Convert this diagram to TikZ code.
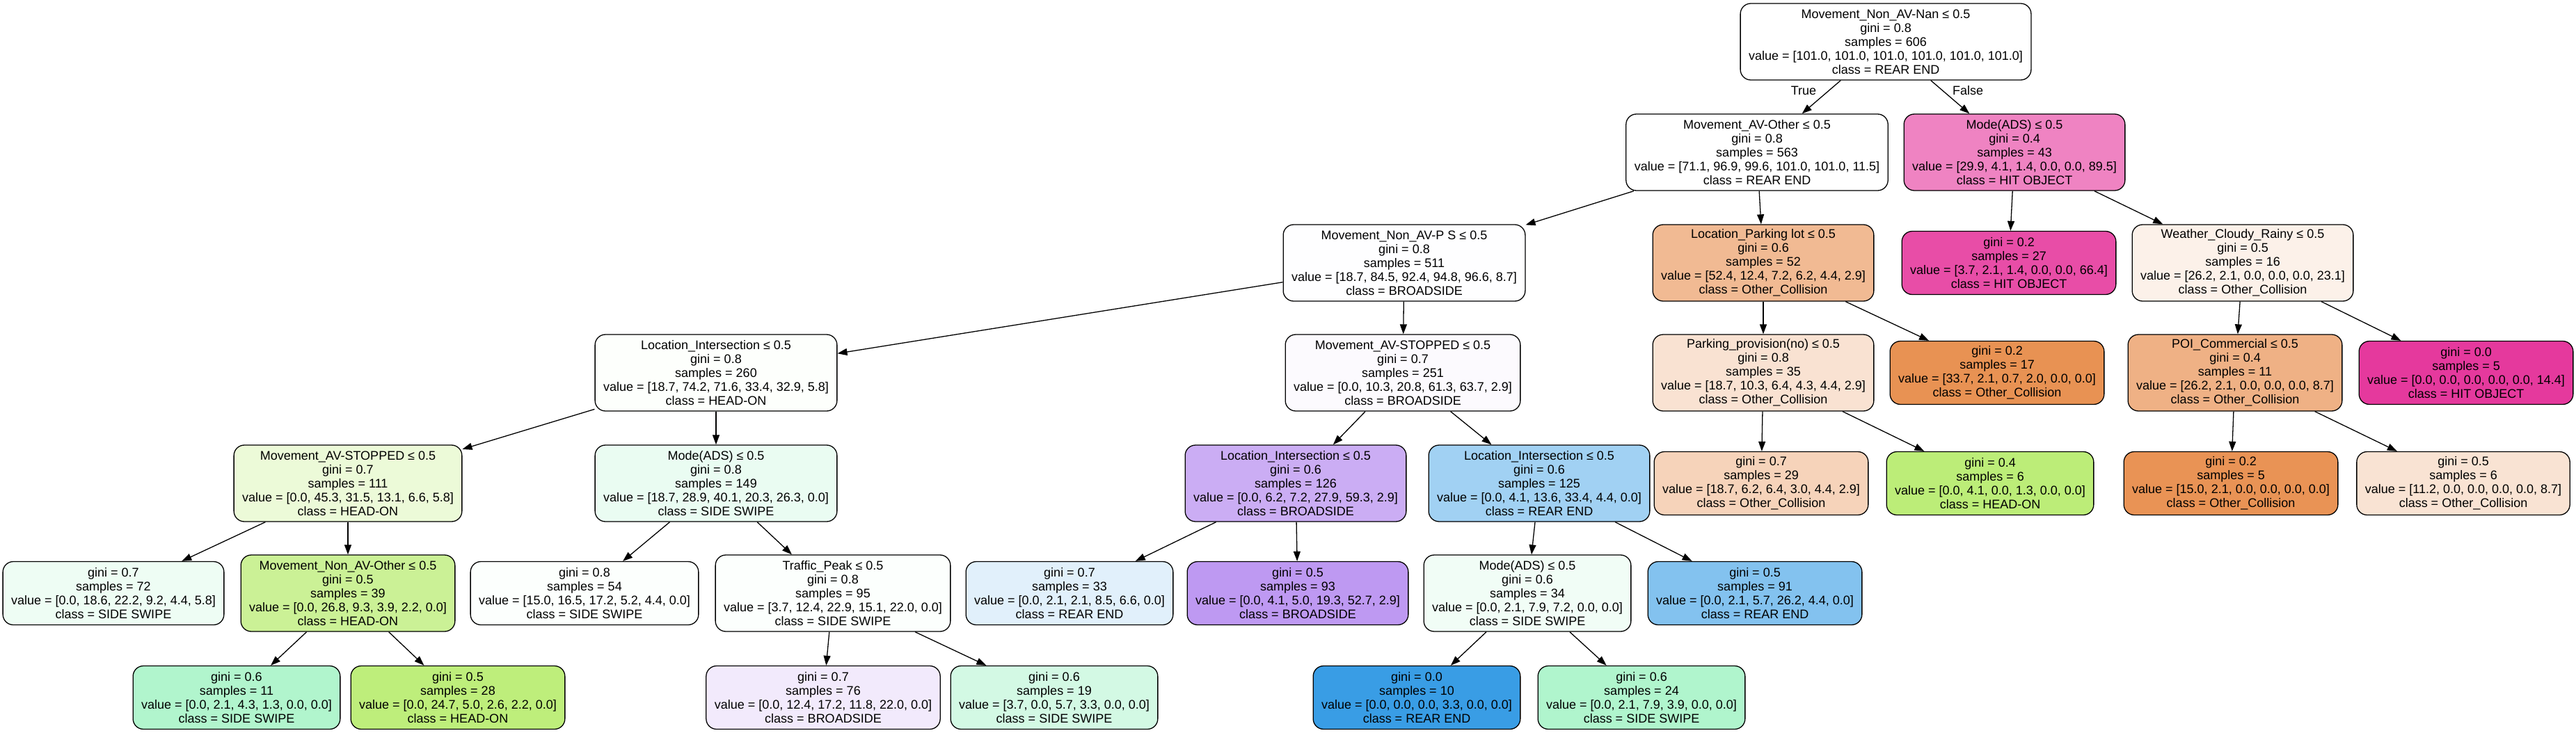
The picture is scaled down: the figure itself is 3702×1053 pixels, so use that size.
\documentclass[tikz,border=0pt]{standalone}
\usepackage{fontspec}
\setmainfont{Liberation Sans}
\usetikzlibrary{arrows.meta}
\definecolor{cW}{RGB}{255,255,255}
\definecolor{cPinkA}{RGB}{239,131,194}
\definecolor{cPS}{RGB}{254,254,255}
\definecolor{cPark}{RGB}{241,186,147}
\definecolor{cLeafA}{RGB}{232,77,167}
\definecolor{cWeather}{RGB}{252,241,233}
\definecolor{cLoc260}{RGB}{253,255,252}
\definecolor{cStop251}{RGB}{252,250,254}
\definecolor{cProv}{RGB}{249,226,210}
\definecolor{cLeafB}{RGB}{232,146,83}
\definecolor{cPOI}{RGB}{239,177,133}
\definecolor{cLeafC}{RGB}{229,57,157}
\definecolor{cStop111}{RGB}{236,250,216}
\definecolor{cModeB}{RGB}{234,252,242}
\definecolor{cLoc126}{RGB}{203,173,244}
\definecolor{cLoc125}{RGB}{161,209,243}
\definecolor{cLeafD}{RGB}{246,211,186}
\definecolor{cLeafE}{RGB}{188,237,120}
\definecolor{cLeafF}{RGB}{233,147,85}
\definecolor{cLeafG}{RGB}{249,227,211}
\definecolor{cLeafH}{RGB}{238,253,244}
\definecolor{cNonOther}{RGB}{203,241,150}
\definecolor{cLeafI}{RGB}{252,255,253}
\definecolor{cTraffic}{RGB}{252,255,253}
\definecolor{cLeafJ}{RGB}{225,240,251}
\definecolor{cLeafK}{RGB}{190,153,242}
\definecolor{cModeC}{RGB}{241,253,246}
\definecolor{cLeafL}{RGB}{131,194,239}
\definecolor{cLeafM}{RGB}{177,245,205}
\definecolor{cLeafN}{RGB}{190,238,123}
\definecolor{cLeafO}{RGB}{242,234,252}
\definecolor{cLeafP}{RGB}{211,249,228}
\definecolor{cLeafQ}{RGB}{57,157,229}
\definecolor{cLeafR}{RGB}{176,245,205}
\tikzset{
  tn/.style={draw=black, line width=1.3pt, rounded corners=15pt, align=center,
    inner xsep=12pt, inner ysep=4pt, font=\fontsize{18pt}{20pt}\selectfont},
  dec/.style={tn, minimum height=110pt},
  leafbox/.style={tn, minimum height=91pt},
  edge/.style={-{Triangle[length=14pt,width=10pt]}, line width=1.3pt},
  lbl/.style={font=\fontsize{18pt}{20pt}\selectfont, inner sep=0pt}
}
\begin{document}
\begin{tikzpicture}[x=1pt,y=-1pt]
\useasboundingbox (0,0) rectangle (3702,1053);
% level 0
\node[dec, fill=cW] (root) at (2710,60) {Movement\_Non\_AV-Nan ≤ 0.5\\gini = 0.8\\samples = 606\\value = [101.0, 101.0, 101.0, 101.0, 101.0, 101.0]\\class = REAR END};
% level 1
\node[dec, fill=cW] (avother) at (2525,219) {Movement\_AV-Other ≤ 0.5\\gini = 0.8\\samples = 563\\value = [71.1, 96.9, 99.6, 101.0, 101.0, 11.5]\\class = REAR END};
\node[dec, fill=cPinkA] (modeA) at (2895,219) {Mode(ADS) ≤ 0.5\\gini = 0.4\\samples = 43\\value = [29.9, 4.1, 1.4, 0.0, 0.0, 89.5]\\class = HIT OBJECT};
% level 2
\node[dec, fill=cPS] (nonavps) at (2018,378) {Movement\_Non\_AV-P S ≤ 0.5\\gini = 0.8\\samples = 511\\value = [18.7, 84.5, 92.4, 94.8, 96.6, 8.7]\\class = BROADSIDE};
\node[dec, fill=cPark] (parklot) at (2534,378) {Location\_Parking lot ≤ 0.5\\gini = 0.6\\samples = 52\\value = [52.4, 12.4, 7.2, 6.2, 4.4, 2.9]\\class = Other\_Collision};
\node[leafbox, fill=cLeafA] (leafA) at (2887,378) {gini = 0.2\\samples = 27\\value = [3.7, 2.1, 1.4, 0.0, 0.0, 66.4]\\class = HIT OBJECT};
\node[dec, fill=cWeather] (weather) at (3223,378) {Weather\_Cloudy\_Rainy ≤ 0.5\\gini = 0.5\\samples = 16\\value = [26.2, 2.1, 0.0, 0.0, 0.0, 23.1]\\class = Other\_Collision};
% level 3
\node[dec, fill=cLoc260] (locint260) at (1029,536) {Location\_Intersection ≤ 0.5\\gini = 0.8\\samples = 260\\value = [18.7, 74.2, 71.6, 33.4, 32.9, 5.8]\\class = HEAD-ON};
\node[dec, fill=cStop251] (avstop251) at (2016,536) {Movement\_AV-STOPPED ≤ 0.5\\gini = 0.7\\samples = 251\\value = [0.0, 10.3, 20.8, 61.3, 63.7, 2.9]\\class = BROADSIDE};
\node[dec, fill=cProv] (parkprov) at (2534,536) {Parking\_provision(no) ≤ 0.5\\gini = 0.8\\samples = 35\\value = [18.7, 10.3, 6.4, 4.3, 4.4, 2.9]\\class = Other\_Collision};
\node[leafbox, fill=cLeafB] (leafB) at (2870,536) {gini = 0.2\\samples = 17\\value = [33.7, 2.1, 0.7, 2.0, 0.0, 0.0]\\class = Other\_Collision};
\node[dec, fill=cPOI] (poi) at (3212,536) {POI\_Commercial ≤ 0.5\\gini = 0.4\\samples = 11\\value = [26.2, 2.1, 0.0, 0.0, 0.0, 8.7]\\class = Other\_Collision};
\node[leafbox, fill=cLeafC] (leafC) at (3544,536) {gini = 0.0\\samples = 5\\value = [0.0, 0.0, 0.0, 0.0, 0.0, 14.4]\\class = HIT OBJECT};
% level 4
\node[dec, fill=cStop111] (avstop111) at (500,695) {Movement\_AV-STOPPED ≤ 0.5\\gini = 0.7\\samples = 111\\value = [0.0, 45.3, 31.5, 13.1, 6.6, 5.8]\\class = HEAD-ON};
\node[dec, fill=cModeB] (modeB) at (1029,695) {Mode(ADS) ≤ 0.5\\gini = 0.8\\samples = 149\\value = [18.7, 28.9, 40.1, 20.3, 26.3, 0.0]\\class = SIDE SWIPE};
\node[dec, fill=cLoc126] (locint126) at (1862,695) {Location\_Intersection ≤ 0.5\\gini = 0.6\\samples = 126\\value = [0.0, 6.2, 7.2, 27.9, 59.3, 2.9]\\class = BROADSIDE};
\node[dec, fill=cLoc125] (locint125) at (2212,695) {Location\_Intersection ≤ 0.5\\gini = 0.6\\samples = 125\\value = [0.0, 4.1, 13.6, 33.4, 4.4, 0.0]\\class = REAR END};
\node[leafbox, fill=cLeafD] (leafD) at (2531,695) {gini = 0.7\\samples = 29\\value = [18.7, 6.2, 6.4, 3.0, 4.4, 2.9]\\class = Other\_Collision};
\node[leafbox, fill=cLeafE] (leafE) at (2860,695) {gini = 0.4\\samples = 6\\value = [0.0, 4.1, 0.0, 1.3, 0.0, 0.0]\\class = HEAD-ON};
\node[leafbox, fill=cLeafF] (leafF) at (3206,695) {gini = 0.2\\samples = 5\\value = [15.0, 2.1, 0.0, 0.0, 0.0, 0.0]\\class = Other\_Collision};
\node[leafbox, fill=cLeafG] (leafG) at (3540,695) {gini = 0.5\\samples = 6\\value = [11.2, 0.0, 0.0, 0.0, 0.0, 8.7]\\class = Other\_Collision};
% level 5
\node[leafbox, fill=cLeafH] (leafH) at (163,853) {gini = 0.7\\samples = 72\\value = [0.0, 18.6, 22.2, 9.2, 4.4, 5.8]\\class = SIDE SWIPE};
\node[dec, fill=cNonOther] (nonavother) at (500,853) {Movement\_Non\_AV-Other ≤ 0.5\\gini = 0.5\\samples = 39\\value = [0.0, 26.8, 9.3, 3.9, 2.2, 0.0]\\class = HEAD-ON};
\node[leafbox, fill=cLeafI] (leafI) at (840,853) {gini = 0.8\\samples = 54\\value = [15.0, 16.5, 17.2, 5.2, 4.4, 0.0]\\class = SIDE SWIPE};
\node[dec, fill=cTraffic] (traffic) at (1197,853) {Traffic\_Peak ≤ 0.5\\gini = 0.8\\samples = 95\\value = [3.7, 12.4, 22.9, 15.1, 22.0, 0.0]\\class = SIDE SWIPE};
\node[leafbox, fill=cLeafJ] (leafJ) at (1537,853) {gini = 0.7\\samples = 33\\value = [0.0, 2.1, 2.1, 8.5, 6.6, 0.0]\\class = REAR END};
\node[leafbox, fill=cLeafK] (leafK) at (1865,853) {gini = 0.5\\samples = 93\\value = [0.0, 4.1, 5.0, 19.3, 52.7, 2.9]\\class = BROADSIDE};
\node[dec, fill=cModeC] (modeC) at (2195,853) {Mode(ADS) ≤ 0.5\\gini = 0.6\\samples = 34\\value = [0.0, 2.1, 7.9, 7.2, 0.0, 0.0]\\class = SIDE SWIPE};
\node[leafbox, fill=cLeafL] (leafL) at (2522,853) {gini = 0.5\\samples = 91\\value = [0.0, 2.1, 5.7, 26.2, 4.4, 0.0]\\class = REAR END};
% level 6
\node[leafbox, fill=cLeafM] (leafM) at (340,1003) {gini = 0.6\\samples = 11\\value = [0.0, 2.1, 4.3, 1.3, 0.0, 0.0]\\class = SIDE SWIPE};
\node[leafbox, fill=cLeafN] (leafN) at (658,1003) {gini = 0.5\\samples = 28\\value = [0.0, 24.7, 5.0, 2.6, 2.2, 0.0]\\class = HEAD-ON};
\node[leafbox, fill=cLeafO] (leafO) at (1183,1003) {gini = 0.7\\samples = 76\\value = [0.0, 12.4, 17.2, 11.8, 22.0, 0.0]\\class = BROADSIDE};
\node[leafbox, fill=cLeafP] (leafP) at (1515,1003) {gini = 0.6\\samples = 19\\value = [3.7, 0.0, 5.7, 3.3, 0.0, 0.0]\\class = SIDE SWIPE};
\node[leafbox, fill=cLeafQ] (leafQ) at (2036,1003) {gini = 0.0\\samples = 10\\value = [0.0, 0.0, 0.0, 3.3, 0.0, 0.0]\\class = REAR END};
\node[leafbox, fill=cLeafR] (leafR) at (2359,1003) {gini = 0.6\\samples = 24\\value = [0.0, 2.1, 7.9, 3.9, 0.0, 0.0]\\class = SIDE SWIPE};
% labels
\node[lbl] (tlab) at (2592,130) {True};
\node[lbl] (flab) at (2828,130) {False};
% edges
\draw[edge] (root) -- (avother);
\draw[edge] (root) -- (modeA);
\draw[edge] (avother) -- (nonavps);
\draw[edge] (avother) -- (parklot);
\draw[edge] (modeA) -- (leafA);
\draw[edge] (modeA) -- (weather);
\draw[edge] (nonavps) -- (locint260);
\draw[edge] (nonavps) -- (avstop251);
\draw[edge] (parklot) -- (parkprov);
\draw[edge] (parklot) -- (leafB);
\draw[edge] (weather) -- (poi);
\draw[edge] (weather) -- (leafC);
\draw[edge] (locint260) -- (avstop111);
\draw[edge] (locint260) -- (modeB);
\draw[edge] (avstop251) -- (locint126);
\draw[edge] (avstop251) -- (locint125);
\draw[edge] (parkprov) -- (leafD);
\draw[edge] (parkprov) -- (leafE);
\draw[edge] (poi) -- (leafF);
\draw[edge] (poi) -- (leafG);
\draw[edge] (avstop111) -- (leafH);
\draw[edge] (avstop111) -- (nonavother);
\draw[edge] (modeB) -- (leafI);
\draw[edge] (modeB) -- (traffic);
\draw[edge] (locint126) -- (leafJ);
\draw[edge] (locint126) -- (leafK);
\draw[edge] (locint125) -- (modeC);
\draw[edge] (locint125) -- (leafL);
\draw[edge] (nonavother) -- (leafM);
\draw[edge] (nonavother) -- (leafN);
\draw[edge] (traffic) -- (leafO);
\draw[edge] (traffic) -- (leafP);
\draw[edge] (modeC) -- (leafQ);
\draw[edge] (modeC) -- (leafR);
\end{tikzpicture}
\end{document}
